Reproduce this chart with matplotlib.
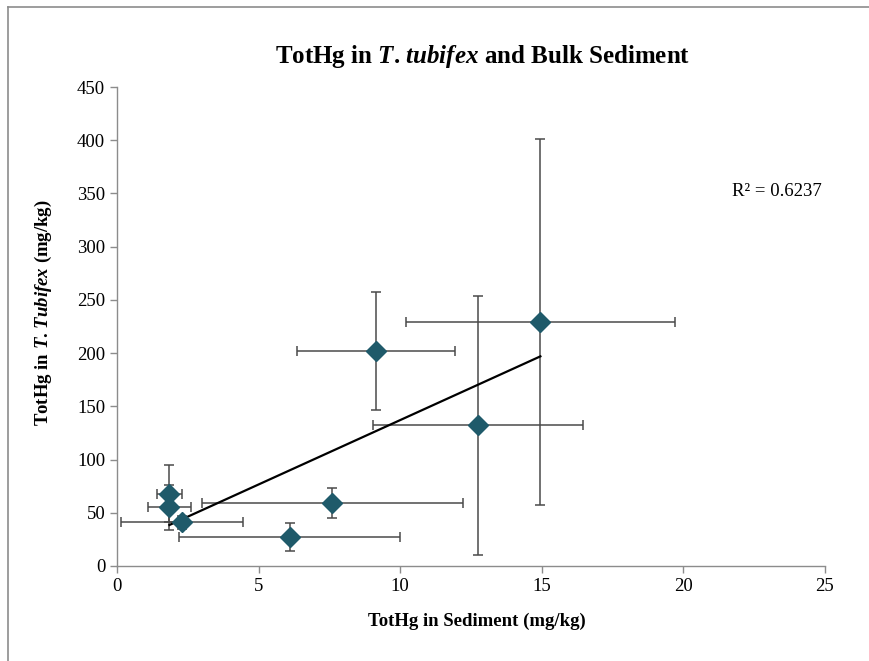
"""TotHg in T. tubifex vs bulk sediment, scatter with error bars and trendline"""

import numpy as np
import matplotlib
matplotlib.use('Agg')
import matplotlib.pyplot as plt
from matplotlib.lines import Line2D

plt.rcParams['font.family'] = ['Liberation Serif', 'DejaVu Serif']
plt.rcParams['mathtext.fontset'] = 'custom'
plt.rcParams['mathtext.rm'] = 'Liberation Serif:bold'
plt.rcParams['mathtext.it'] = 'Liberation Serif:italic:bold'
plt.rcParams['mathtext.bf'] = 'Liberation Serif:bold'

# sediment TotHg (mg/kg) and its error
sediment = [1.85, 1.85, 2.3, 6.1, 7.6, 9.15, 12.75, 14.95]
sediment_err = [0.45, 0.76, 2.15, 3.9, 4.6, 2.8, 3.7, 4.75]
# worm TotHg (mg/kg) and its error
tubifex = [68, 55, 41, 27, 59, 202, 132, 229]
tubifex_err = [27, 21, 6, 13, 14, 55, 122, 172]
r2_text = "R² = 0.6237"

fig = plt.figure(figsize=(8.69, 6.61), dpi=100)
ax = fig.add_axes([117 / 869, 1 - 566 / 661, (825 - 117) / 869, (566 - 87) / 661])

ax.errorbar(sediment, tubifex, xerr=sediment_err, yerr=tubifex_err, fmt='none',
            ecolor='#4a4a4a', elinewidth=1.1, capsize=3.5, capthick=1.1, zorder=2)

# linear trendline over the data range
slope, intercept = np.polyfit(sediment, tubifex, 1)
xs = np.array([min(sediment), max(sediment)])
ax.plot(xs, slope * xs + intercept, color='black', lw=1.6, zorder=3)

ax.plot(sediment, tubifex, 'D', color='#1f5a6a', markersize=10.5, zorder=4,
        markeredgecolor='#1f5a6a')

ax.set_xlim(0, 25)
ax.set_ylim(0, 450)
ax.set_xticks(range(0, 26, 5))
ax.set_yticks(range(0, 451, 50))
for s in ['top', 'right']:
    ax.spines[s].set_visible(False)
for s in ['left', 'bottom']:
    ax.spines[s].set_color('#8c8c8c')
    ax.spines[s].set_linewidth(1)
ax.tick_params(axis='both', colors='#8c8c8c', labelcolor='black', labelsize=13.5,
               length=5, width=1)

ax.text(23.3, 352, r2_text, fontsize=13.5, ha='center', va='center')

fig.text(0.555, 1 - 57 / 661, r"TotHg in $\mathit{T}$. $\mathit{tubifex}$ and Bulk Sediment",
         fontsize=18, fontweight='bold', ha='center', va='center')
fig.text(0.549, 1 - 621 / 661, "TotHg in Sediment (mg/kg)",
         fontsize=13.5, fontweight='bold', ha='center', va='center')
fig.text(43 / 869, 1 - 313 / 661, r"TotHg in $\mathit{T}$. $\mathit{Tubifex}$ (mg/kg)",
         fontsize=13.5, fontweight='bold', ha='center', va='center', rotation=90)

# chart area border (left and top)
fig.add_artist(Line2D([8 / 869, 8 / 869], [0, 1 - 7 / 661], transform=fig.transFigure,
                      color='#8c8c8c', lw=1.2))
fig.add_artist(Line2D([8 / 869, 1], [1 - 7 / 661, 1 - 7 / 661], transform=fig.transFigure,
                      color='#8c8c8c', lw=1.2))

fig.savefig('out.png', dpi=100)
